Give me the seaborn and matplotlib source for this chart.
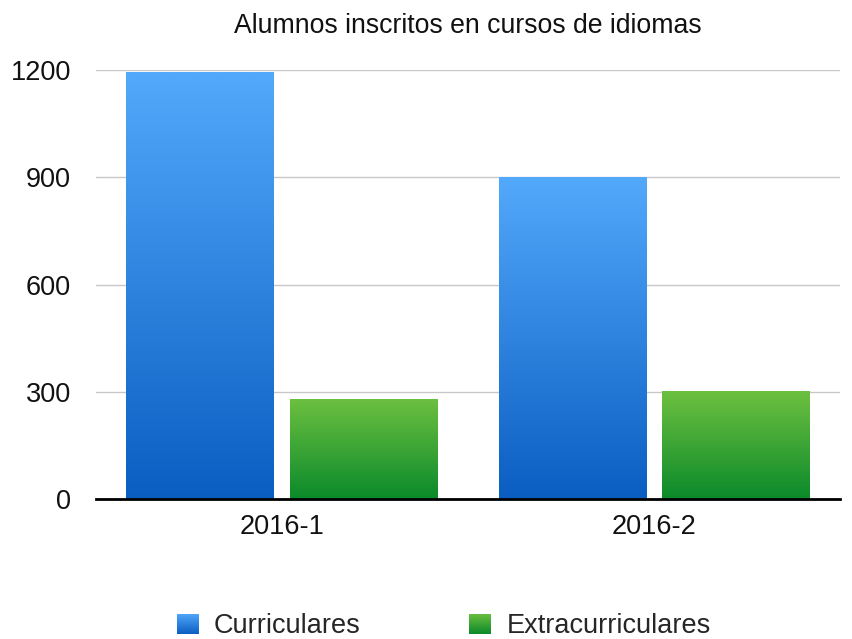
import numpy as np
import pandas as pd
import matplotlib
matplotlib.use("Agg")
import matplotlib.pyplot as plt
import seaborn as sns
from matplotlib.colors import LinearSegmentedColormap
from matplotlib.patches import Patch

periods = ["2016-1", "2016-2"]
series = ["Curriculares", "Extracurriculares"]
curriculares = [1195, 902]
extracurriculares = [280, 302]
yticks = [0, 300, 600, 900, 1200]
title = "Alumnos inscritos en cursos de idiomas"

df = pd.DataFrame({
    "periodo": periods * 2,
    "tipo": [series[0]] * len(periods) + [series[1]] * len(periods),
    "alumnos": curriculares + extracurriculares,
})

grad = {
    series[0]: ("#53a9fb", "#0a5ec2"),
    series[1]: ("#6dc040", "#0b8a2b"),
}

sns.set_theme(style="white")
plt.rcParams["font.family"] = ["Liberation Sans", "DejaVu Sans"]

fig = plt.figure(figsize=(8.53, 6.39), dpi=100)
ax = fig.add_axes([0.1125, 0.219, 0.8725, 0.671])

sns.barplot(data=df, x="periodo", y="alumnos", hue="tipo", order=periods,
            hue_order=series, palette=[grad[s][1] for s in series],
            width=0.88, gap=0.1, ax=ax, legend=False, errorbar=None)

ax.set_ylim(0, 1200)
ax.set_xlim(-0.5, 1.5)
ax.set_yticks(yticks)
ax.set_yticklabels([str(t) for t in yticks], fontsize=19.5, color="#111111")
ax.tick_params(axis="x", labelsize=19.5, colors="#111111", length=0, pad=11)
ax.tick_params(axis="y", length=0, pad=18)
ax.set_xlabel("")
ax.set_ylabel("")
ax.yaxis.grid(True, color="#c8c8c8", linewidth=1)
ax.set_axisbelow(True)
for s in ["top", "right", "left"]:
    ax.spines[s].set_visible(False)
ax.spines["bottom"].set_color("black")
ax.spines["bottom"].set_linewidth(2)
ax.spines["bottom"].set_zorder(5)

# gradient fill on each bar
patches = list(ax.patches)
n = len(periods)
img = np.linspace(0, 1, 256).reshape(-1, 1)
for i, p in enumerate(patches):
    s = series[i // n]
    top, bot = grad[s]
    cmap = LinearSegmentedColormap.from_list("g", [bot, top])
    x0, y0 = p.get_x(), p.get_y()
    w, h = p.get_width(), p.get_height()
    im = ax.imshow(img, cmap=cmap, origin="lower", aspect="auto",
                   extent=[x0, x0 + w, y0, y0 + h], zorder=3)
    im.set_clip_path(p)
    p.set_edgecolor("none")
ax.set_xlim(-0.5, 1.5)
ax.set_ylim(0, 1200)

fig.text(0.549, 0.960, title, ha="center", va="center", fontsize=19.2, color="#111111")

handles = [Patch(facecolor=grad[s][0], edgecolor="none") for s in series]
leg = fig.legend(handles, series, loc="center", bbox_to_anchor=(0.52, 0.02),
                 ncol=2, frameon=False, fontsize=19.5, handlelength=0.78,
                 handleheight=0.78, columnspacing=4.0, handletextpad=0.6,
                 borderpad=0.1)
fig.canvas.draw()
# gradient legend squares
for h, s in zip(leg.legend_handles, series):
    bb = h.get_window_extent(fig.canvas.get_renderer()).transformed(fig.transFigure.inverted())
    top, bot = grad[s]
    cmap = LinearSegmentedColormap.from_list("g", [bot, top])
    iax = fig.add_axes([bb.x0, bb.y0, bb.width, bb.height])
    iax.imshow(img, cmap=cmap, origin="lower", aspect="auto")
    iax.set_axis_off()
    h.set_visible(False)

fig.savefig("out.png", dpi=100)
